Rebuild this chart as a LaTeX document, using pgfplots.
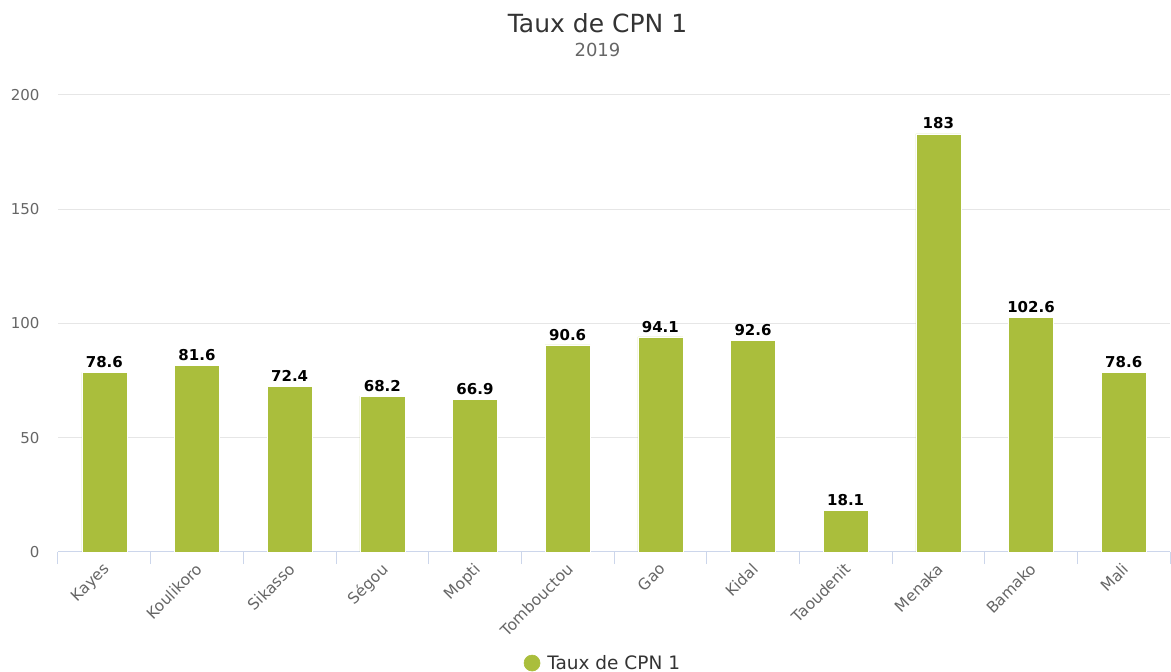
\documentclass[border=0pt]{standalone}
\usepackage{fontspec}
\setmainfont{DejaVu Sans}
\usepackage{pgfplots}
\pgfplotsset{compat=1.18}
\definecolor{barcol}{RGB}{170,190,60}
\definecolor{txtgray}{HTML}{666666}
\definecolor{axcol}{HTML}{CCD6EB}
\definecolor{gridcol}{HTML}{E6E6E6}
\definecolor{titlecol}{HTML}{333333}
\begin{document}
\begin{tikzpicture}
\path[use as bounding box] (-58pt,-120pt) rectangle (1113pt,552pt);
\begin{axis}[
  at={(0pt,0pt)}, anchor=south west,
  width=1112pt, height=457pt, scale only axis,
  xmin=-0.5, xmax=11.5, ymin=0, ymax=200,
  ytick={0,50,100,150,200},
  xtick={0,1,2,3,4,5,6,7,8,9,10,11},
  xticklabels={Kayes,Koulikoro,Sikasso,Ségou,Mopti,Tombouctou,Gao,Kidal,Taoudenit,Menaka,Bamako,Mali},
  minor xtick={-0.5,0.5,...,11.5},
  axis lines*=left,
  y axis line style={draw=none},
  x axis line style={draw=axcol, line width=1pt, -},
  tick align=outside,
  major tick length=0pt,
  minor tick length=12pt,
  ytick style={draw=none},
  minor x tick style={draw=axcol, line width=1pt},
  ymajorgrids, grid style={draw=gridcol, line width=1pt},
  /pgf/number format/assume math mode=true,
  yticklabel style={font=\fontsize{15}{18}\selectfont, text=txtgray, anchor=east, xshift=-15pt},
  xticklabel style={font=\fontsize{15.5}{18}\selectfont, text=txtgray, xshift=-2pt, yshift=-5pt, rotate=45, anchor=north east},
  ybar, bar width=45pt, bar shift=0pt,
  nodes near coords,
  every node near coord/.append style={font=\bfseries\fontsize{15}{18}\selectfont, text=black, anchor=south, yshift=1pt},
  nodes near coords style={/pgf/number format/.cd, fixed, precision=1},
  legend style={at={(0.490,-0.243)}, anchor=center, draw=none, fill=none, font=\fontsize{18.5}{21}\selectfont, text=titlecol},
  legend image code/.code={\fill[barcol] (0pt,0pt) circle (8pt); \path (13pt,0pt);},
  clip=false,
]
\addplot[fill=barcol, draw=white, line width=0.6pt] coordinates {
  (0,78.6) (1,81.6) (2,72.4) (3,68.2) (4,66.9) (5,90.6)
  (6,94.1) (7,92.6) (8,18.1) (9,183) (10,102.6) (11,78.6)
};
\addlegendentry{Taux de CPN 1}
\end{axis}
\node[anchor=base, font=\fontsize{25}{28}\selectfont, text=titlecol] at (539.5pt,519pt) {Taux de CPN 1};
\node[anchor=base, font=\fontsize{18}{21}\selectfont, text=txtgray] at (539.5pt,495pt) {2019};
\end{tikzpicture}
\end{document}
